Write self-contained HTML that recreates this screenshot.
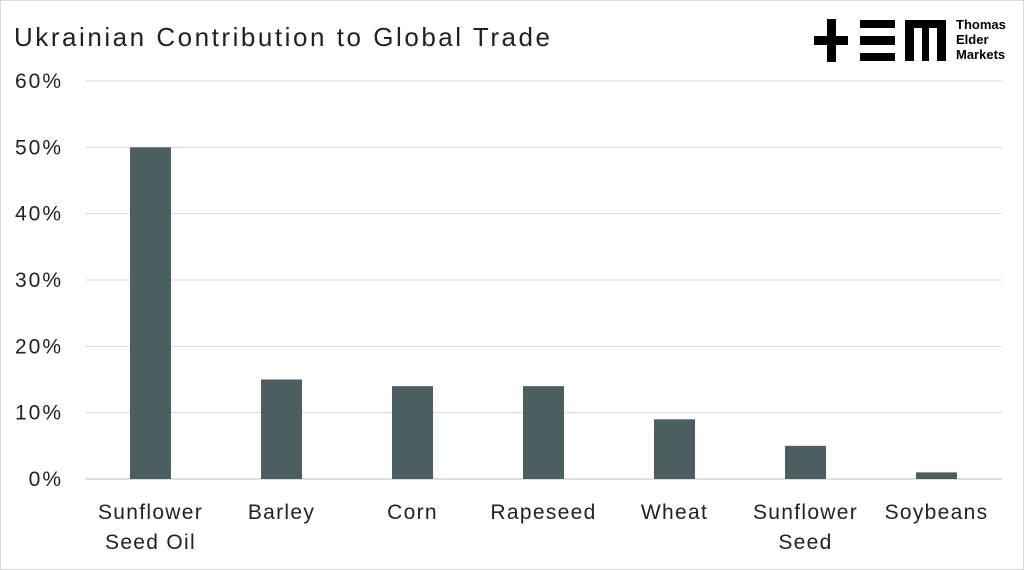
<!DOCTYPE html>
<html><head><meta charset="utf-8"><style>
body{margin:0;background:#fff;}
svg{display:block;font-family:"Liberation Sans",sans-serif;}
</style></head><body>
<svg width="1024" height="570" viewBox="0 0 1024 570">
<rect x="0.5" y="0.5" width="1023" height="569" fill="#fff" stroke="#d9d9d9"/>
<text x="14" y="46" font-size="26" fill="#222" textLength="536" lengthAdjust="spacing">Ukrainian Contribution to Global Trade</text>
<g fill="#000">
<rect x="814" y="36" width="34" height="9"/>
<rect x="827" y="19" width="9" height="43"/>
<rect x="860" y="20" width="35" height="8"/>
<rect x="860" y="36" width="35" height="9"/>
<rect x="860" y="53" width="35" height="8"/>
<path d="M905 20H946V61H937V28H929V61H922V28H914V61H905Z"/>
<text x="956" y="29" font-size="13" font-weight="bold">Thomas</text>
<text x="956" y="44" font-size="13" font-weight="bold">Elder</text>
<text x="956" y="59" font-size="13" font-weight="bold">Markets</text>
</g>
<g id="grid"></g><g id="bars"></g><g id="labels"></g>
</svg>
<script>
const categories=[["Sunflower","Seed Oil"],["Barley"],["Corn"],["Rapeseed"],["Wheat"],["Sunflower","Seed"],["Soybeans"]];
const values=[50,15,14,14,9,5,1];
const ticks=[0,10,20,30,40,50,60];
const ns="http://www.w3.org/2000/svg";
const y0=479,y1=81,xL=85,xR=1002,band=(xR-xL)/categories.length,bw=41;
const y=v=>y0-(v/60)*(y0-y1);
const x=i=>xL+band*(i+0.5);
function mk(t,a,p){const e=document.createElementNS(ns,t);for(const k in a)e.setAttribute(k,a[k]);p.appendChild(e);return e;}
const g=document.getElementById('grid'),b=document.getElementById('bars'),l=document.getElementById('labels');
ticks.forEach(t=>{
const ln=mk('line',{x1:xL,x2:xR,y1:y(t),y2:y(t),stroke:t===0?'#bfbfbf':'#d9d9d9','stroke-width':1},g);


const tx=mk('text',{x:63,y:y(t)+7,'font-size':21,'text-anchor':'end','letter-spacing':2,fill:'#222'},g);
tx.textContent=t+'%';


});
values.forEach((v,i)=>{
const r=mk('rect',{x:x(i)-bw/2,y:y(v),width:bw,height:y0-y(v),fill:'#4d5e60'},b);


const tx=mk('text',{x:x(i),y:519,'font-size':21,'text-anchor':'middle','letter-spacing':1.3,fill:'#222'},l);


categories[i].forEach((s,j)=>{const ts=mk('tspan',{x:x(i),dy:j?30:0},tx);ts.textContent=s;});
});
</script>
</body></html>
